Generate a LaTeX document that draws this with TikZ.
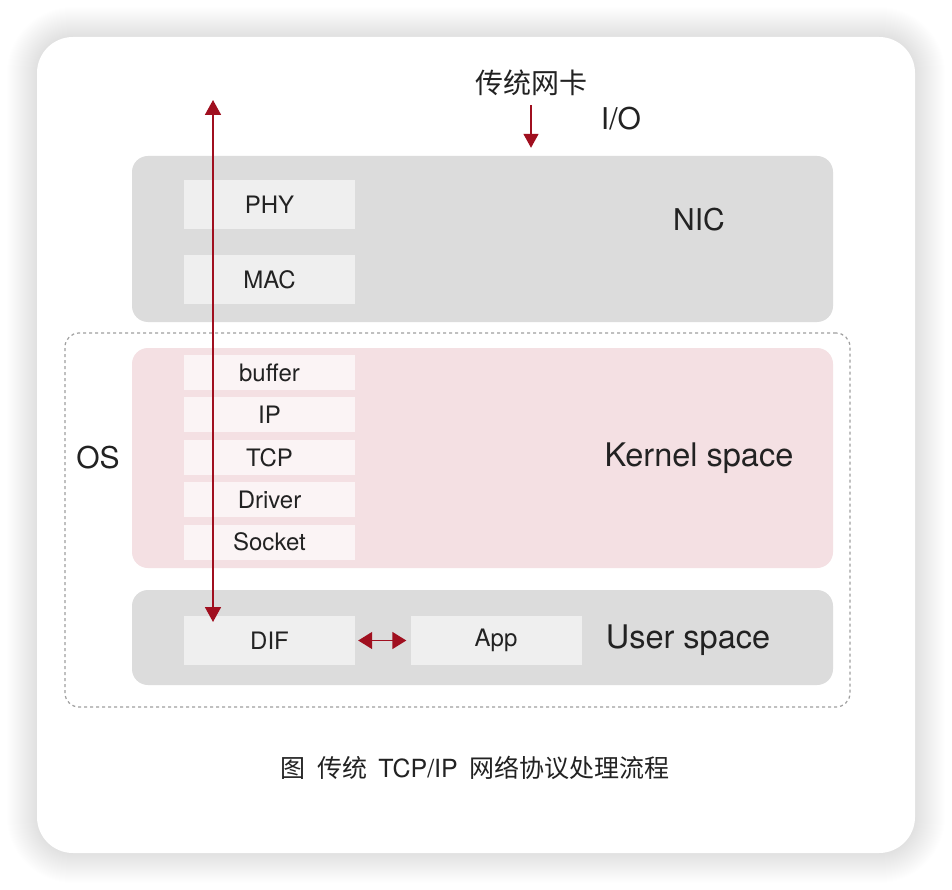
\documentclass[tikz,border=0pt]{standalone}
\usepackage{fontspec}
\setmainfont{TeX Gyre Heros}
\newfontfamily\cjk{Noto Sans CJK SC}
\usetikzlibrary{arrows.meta, positioning}
\definecolor{layergray}{HTML}{DCDCDC}
\definecolor{cellgray}{HTML}{EFEFEF}
\definecolor{kernelpink}{HTML}{F4E0E3}
\definecolor{cellpink}{HTML}{FBF4F5}
\definecolor{arrowred}{HTML}{A00F1F}
\definecolor{txtgray}{HTML}{222222}

\begin{document}
\begin{tikzpicture}[x=1pt, y=-1pt,
  every node/.style={text=txtgray},
  layer/.style={fill=layergray, rounded corners=16pt, minimum width=701pt, inner sep=0pt},
  cell/.style={fill=cellgray, minimum width=171pt, minimum height=49pt, inner sep=0pt, font=\fontsize{24}{28}\selectfont},
  kcell/.style={cell, fill=cellpink, minimum height=35pt},
  big/.style={font=\fontsize{30}{36}\selectfont},
  space/.style={font=\fontsize{32.5}{38}\selectfont},
  redarrow/.style={arrowred, line width=1.8pt, {Triangle[length=15pt, width=16pt]}-{Triangle[length=15pt, width=16pt]}}]
	\fill[white] (0,0) rectangle (952,890);
	\useasboundingbox (0,0) rectangle (952,890);
	% soft shadow of the panel
	\foreach \s in {1,...,30}
		\fill[black, fill opacity=0.005, rounded corners=36+\s] (37-\s,37-\s) rectangle (915+\s,853+\s);
	\node[fill=white, rounded corners=36pt, minimum width=878pt, minimum height=816pt, inner sep=0pt] (panel) at (476,445) {};

	% NIC
	\node[layer, minimum height=166pt] (nic) at (482.5,239) {};
	\node[cell] (phy) at (269.5,204.5) {PHY};
	\node[cell] (mac) at (269.5,279.5) {MAC};
	\node[big] at (699,220) {NIC};

	% OS
	\node[draw=gray!75, dashed, dash pattern=on 3pt off 3pt, line width=1.2pt, rounded corners=14pt,
	      minimum width=785pt, minimum height=374pt, inner sep=0pt] (os) at (457.5,520) {};
	\node[big] at (98,458) {OS};

	\node[layer, fill=kernelpink, minimum height=220pt] (kernel) at (482.5,458) {};
	\node[kcell] (buffer) at (269.5,372.5) {buffer};
	\node[kcell, below=7pt of buffer] (ip) {IP};
	\node[kcell, below=7pt of ip] (tcp) {TCP};
	\node[kcell, below=7pt of tcp] (driver) {Driver};
	\node[kcell, below=7pt of driver] (socket) {Socket};
	\node[space] at (699,458) {Kernel space};

	\node[layer, minimum height=95pt] (user) at (482.5,637.5) {};
	\node[cell] (dif) at (269.5,640.5) {DIF};
	\node[cell] (app) at (496,640.5) {App};
	\node[space] at (688,640) {User space};

	% I/O
	\node[font=\cjk\fontsize{28}{32}\selectfont] (niclabel) at (531,83) {传统网卡};
	\node[big] at (621,119) {I/O};
	\draw[arrowred, line width=1.6pt, -{Triangle[length=14pt, width=15pt]}, shorten <=6pt, shorten >=8pt]
	  (niclabel.south) -- (niclabel.south |- nic.north);

	\coordinate (io top) at (213,100);
	\coordinate (io bottom) at (213,622);
	\draw[redarrow] (io top) -- (io bottom);
	\draw[arrowred, line width=1.5pt, {Triangle[length=14pt, width=17pt]}-{Triangle[length=14pt, width=17pt]},
	      shorten <=3pt, shorten >=4pt] (dif.east) -- (app.west);

	\node[font=\fontsize{25}{29}\selectfont] (caption) at (475,768)
	  {\cjk 图\hspace{0.45em}传统\hspace{0.45em}\normalfont TCP/IP\hspace{0.45em}\cjk 网络协议处理流程};
\end{tikzpicture}
\end{document}
